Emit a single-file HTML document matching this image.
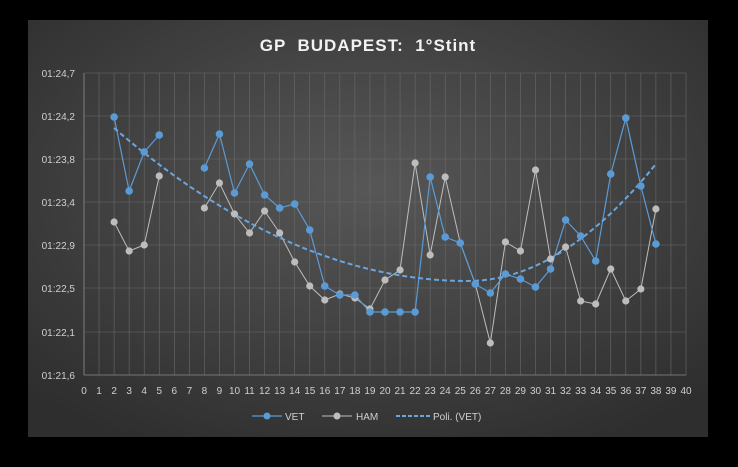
<!DOCTYPE html><html><head><style>body{margin:0;background:#000;width:738px;height:462px;overflow:hidden}</style></head><body>
<svg width="738" height="462" xmlns="http://www.w3.org/2000/svg" font-family="Liberation Sans, sans-serif">
<defs><radialGradient id="g" cx="50%" cy="40%" r="70%"><stop offset="0" stop-color="#575757"/><stop offset="1" stop-color="#2e2e2e"/></radialGradient></defs>
<rect x="28" y="20" width="680" height="417" fill="url(#g)"/>
<text x="368" y="51" text-anchor="middle" fill="#f2f2f2" font-size="17" font-weight="bold" letter-spacing="1" xml:space="preserve" style="white-space:pre">GP  BUDAPEST:  1°Stint</text>
<g id="grid" stroke="#6a6a6a" stroke-width="0.6"></g>
<g id="lab" fill="#cfcfcf" font-size="10"></g>
<polyline id="ham" fill="none" stroke="#bdbdbd" stroke-width="1"/>
<polyline id="vet" fill="none" stroke="#5b9bd5" stroke-width="1.2"/>
<polyline id="tr" fill="none" stroke="#6aa6dd" stroke-width="2" stroke-dasharray="5,3"/>
<g id="pts"></g>
<g font-size="10" fill="#d0d0d0">
<line x1="252" y1="416" x2="282" y2="416" stroke="#5b9bd5" stroke-width="1.2"/><circle cx="267" cy="416" r="3.5" fill="#5b9bd5"/><text x="285" y="420">VET</text>
<line x1="322" y1="416" x2="352" y2="416" stroke="#bdbdbd"/><circle cx="337" cy="416" r="3.5" fill="#bdbdbd"/><text x="356" y="420">HAM</text>
<line x1="396" y1="416" x2="430" y2="416" stroke="#6aa6dd" stroke-width="2" stroke-dasharray="4,2"/><text x="433" y="420">Poli. (VET)</text>
</g>
</svg>
<script>
const X=i=>84+i*15.05,ns="http://www.w3.org/2000/svg";
const gr=document.getElementById('grid'),lab=document.getElementById('lab');
function el(p,t,a,txt){const e=document.createElementNS(ns,t);for(k in a)e.setAttribute(k,a[k]);if(txt!==undefined)e.textContent=String(txt);p.appendChild(e);return e}
for(let i=0;i<=40;i++){el(gr,'line',{x1:X(i),y1:73,x2:X(i),y2:375});el(lab,'text',{x:X(i),y:394,'text-anchor':'middle'},i)}
const ys=[73,116,159,202,245,288,332,375],yl=['01:24,7','01:24,2','01:23,8','01:23,4','01:22,9','01:22,5','01:22,1','01:21,6'];
ys.forEach((y,k)=>{el(gr,'line',{x1:84,y1:y,x2:686,y2:y});el(lab,'text',{x:75,y:y+4,'text-anchor':'end'},yl[k])});
el(gr,'line',{x1:84,y1:375,x2:686,y2:375,stroke:'#999'});el(gr,'line',{x1:84,y1:73,x2:84,y2:375,stroke:'#999'});
const V={2:117,3:191,4:152,5:135,8:168,9:134,10:193,11:164,12:195,13:208,14:204,15:230,16:286,17:295,18:295,19:312,20:312,21:312,22:312,23:177,24:237,25:243,26:284,27:293,28:274,29:279,30:287,31:269,32:220,33:236,34:261,35:174,36:118,37:186,38:244};
const H={2:222,3:251,4:245,5:176,8:208,9:183,10:214,11:233,12:211,13:233,14:262,15:286,16:300,17:294,18:298,19:309,20:280,21:270,22:163,23:255,24:177,25:243,26:284,27:343,28:242,29:251,30:170,31:259,32:247,33:301,34:304,35:269,36:301,37:289,38:209};
function pl(id,D){const a=[],b=[];for(k in D){(k<=5?a:b).push(X(+k)+','+D[k])}const o=document.getElementById(id);o.setAttribute('points',b.join(' '));const e=o.cloneNode();e.removeAttribute('id');e.setAttribute('points',a.join(' '));o.parentNode.insertBefore(e,o)}
pl('ham',H);pl('vet',V);
const pts=document.getElementById('pts');
for(k in H)el(pts,'circle',{cx:X(+k),cy:H[k],r:3.6,fill:'#bdbdbd'});
for(k in V)el(pts,'circle',{cx:X(+k),cy:V[k],r:3.8,fill:'#5b9bd5'});
let tp=[];const a=(128-281)/((2-25.5)**2);const a2=(164-281)/((38-25.5)**2);
for(let t=2;t<=38;t+=0.5){const aa=t<25.5?a:a2;tp.push(X(t)+','+(281+aa*(t-25.5)**2))}
document.getElementById('tr').setAttribute('points',tp.join(' '));
</script></body></html>
